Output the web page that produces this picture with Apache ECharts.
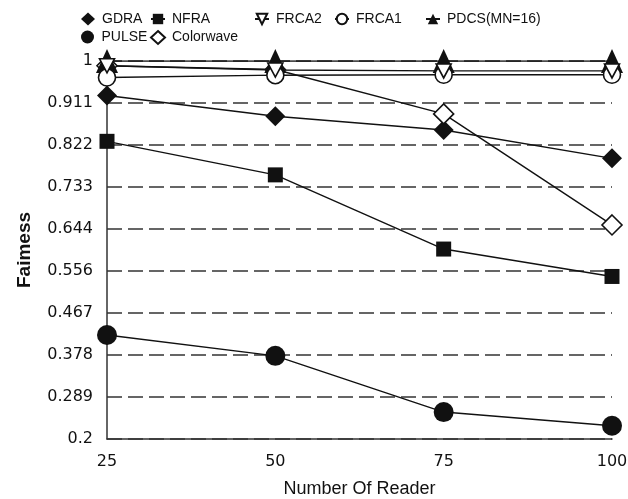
<!DOCTYPE html>
<html><head><meta charset="utf-8">
<script src="https://cdn.jsdelivr.net/npm/echarts@6/dist/echarts.min.js"></script>
<style>html,body{margin:0;padding:0;background:#fff}#c{width:628px;height:499px}</style>
</head><body><div id="c"></div>
<script>
const readers = [25, 50, 75, 100];
const yTickLabels = ['0.2','0.289','0.378','0.467','0.556','0.644','0.733','0.822','0.911','1'];
const GDRA = [0.927, 0.883, 0.854, 0.794];
const NFRA = [0.830, 0.759, 0.602, 0.544];
const FRCA2 = [0.990, 0.981, 0.979, 0.979];
const FRCA1 = [0.965, 0.970, 0.971, 0.971];
const PDCS = [1.0, 1.0, 1.0, 1.0];
const PULSE = [0.420, 0.376, 0.257, 0.228];
const Colorwave = [0.990, 0.982, 0.888, 0.653];

const yMin = 0.2, yMax = 1, yInt = (yMax - yMin) / (yTickLabels.length - 1);
function pts(arr){ return arr.map((v,i)=>[readers[i], v]); }
function mk(name, data, symbol, size, open){
  return {
    name, type:'line', data: pts(data), symbol, symbolSize: size,
    lineStyle:{color:'#111', width:1.4},
    itemStyle: open ? {color:'#fff', borderColor:'#111', borderWidth:1.6} : {color:'#111', borderColor:'#111', borderWidth:0},
    emphasis:{disabled:true}, animation:false
  };
}
const series = [
  mk('PULSE', PULSE, 'circle', 20, false),
  mk('NFRA', NFRA, 'rect', 15, false),
  mk('GDRA', GDRA, 'diamond', [20,20], false),
  mk('Colorwave', Colorwave, 'diamond', [20,20], true),
  mk('PDCS(MN=16)', PDCS, 'triangle', [22,24], false),
  mk('FRCA1', FRCA1, 'circle', 17, true),
  mk('FRCA2', FRCA2, 'path://M0,0 L10,0 L5,9 Z', [15,14], true)
];
function lg(name, left, top, icon){
  const o = {data:[{name, icon}], left, top, padding:0, itemWidth:14, itemHeight:13, itemGap:0,
    textStyle:{fontFamily:'Liberation Sans', fontSize:14, color:'#111', padding:[0,0,0,2]}, selectedMode:false};
  if (!icon) o.data = [name];
  return o;
}
const chart = echarts.init(document.getElementById('c'), null, {renderer:'canvas'});
chart.setOption({
  backgroundColor:'#fff',
  animation:false,
  legend:[
    lg('GDRA', 81, 12, 'diamond'), lg('NFRA', 150, 12), lg('FRCA2', 254, 12), lg('FRCA1', 334, 12), lg('PDCS(MN=16)', 425, 12),
    lg('PULSE', 81, 30, 'circle'), lg('Colorwave', 150, 30, 'diamond')
  ],
  grid:{left:107, right:16, top:61, bottom:60, containLabel:false, outerBoundsMode:'none'},
  xAxis:{type:'value', min:25, max:100, interval:25,
    axisLine:{show:true, lineStyle:{color:'#333', width:1.5}}, axisTick:{show:false},
    splitLine:{show:false},
    axisLabel:{fontFamily:'DejaVu Sans', fontSize:16, color:'#111', margin:15},
    name:'Number Of Reader', nameLocation:'middle', nameGap:41,
    nameTextStyle:{fontFamily:'Liberation Sans', fontSize:18, color:'#111'}},
  yAxis:{type:'value', min:yMin, max:yMax, interval:yInt,
    axisLine:{show:true, lineStyle:{color:'#333', width:1.5}}, axisTick:{show:false},
    splitLine:{show:true, lineStyle:{color:'#333', width:1.5, type:[15,6]}},
    axisLabel:{fontFamily:'DejaVu Sans', fontSize:16, color:'#111', margin:14,
      formatter:(v)=>yTickLabels[Math.round((v - yMin)/yInt)]},
    name:'Faimess', nameLocation:'middle', nameGap:73, nameRotate:90,
    nameTextStyle:{fontFamily:'Liberation Sans', fontSize:19, fontWeight:'bold', color:'#111'}},
  series
});
</script></body></html>
